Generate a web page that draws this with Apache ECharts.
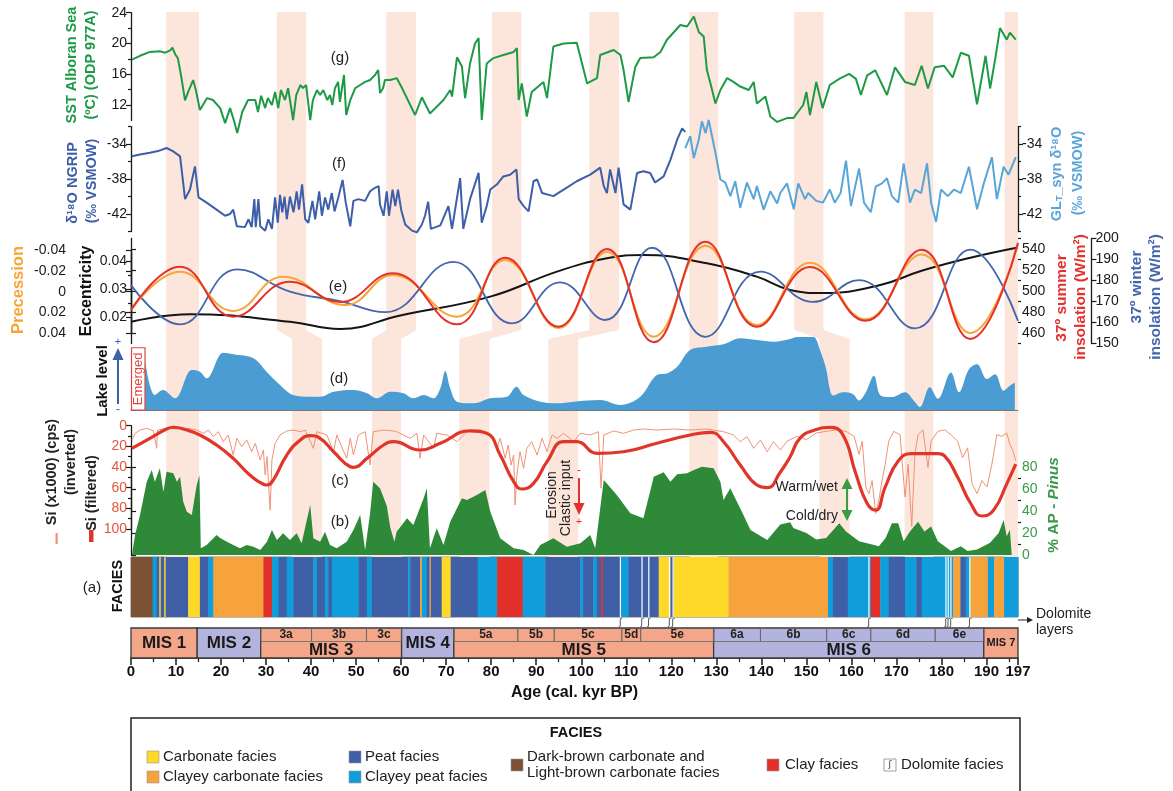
<!DOCTYPE html>
<html><head><meta charset="utf-8">
<script src="https://cdn.jsdelivr.net/npm/echarts@6/dist/echarts.min.js"></script>
<style>html,body{margin:0;padding:0;background:#fff}#c{width:1173px;height:791px}</style>
</head><body><div id="c"></div>
<script>
// ---------------- DATA ----------------
const sstData = [[0.2,17.9],[2.0,18.4],[4.2,18.9],[6.4,19.0],[7.6,18.8],[8.7,19.1],[9.2,19.45],[9.8,18.6],[10.4,18.1],[11.1,15.9],[12.0,12.6],[12.7,13.7],[13.8,15.25],[14.4,13.95],[15.3,11.35],[16.9,12.9],[18.2,12.65],[19.8,11.6],[20.9,9.65],[22.0,11.6],[22.7,10.3],[23.6,8.35],[24.7,11.1],[26.0,12.65],[27.6,12.65],[28.2,11.1],[28.9,13.2],[29.8,11.6],[30.4,12.9],[31.3,12.0],[32.0,13.7],[32.7,11.6],[33.3,13.95],[34.2,12.65],[34.9,14.2],[36.0,10.05],[36.7,13.3],[37.6,14.6],[38.2,14.2],[38.9,14.6],[39.8,10.05],[40.4,12.65],[41.3,13.95],[42.0,13.3],[42.7,13.95],[43.6,12.65],[44.2,13.3],[44.7,12.0],[45.3,14.2],[46.0,15.0],[46.4,12.4],[47.3,15.9],[47.8,10.7],[48.7,12.65],[49.8,14.2],[50.9,14.6],[52.0,15.0],[53.1,15.25],[54.2,15.9],[54.9,16.55],[55.3,13.55],[56.0,14.2],[56.4,15.25],[57.6,15.25],[59.0,15.5],[60.2,14.2],[63.1,10.7],[64.6,13.0],[66.4,10.9],[69.4,12.65],[70.9,13.95],[71.3,13.1],[72.4,18.2],[73.5,17.0],[74.2,12.9],[75.3,17.4],[76.4,20.0],[77.2,20.7],[77.9,10.05],[79.0,17.4],[80.5,18.1],[82.7,18.5],[85.0,18.9],[85.7,19.4],[86.1,12.65],[86.8,14.8],[87.9,10.5],[89.0,13.7],[91.6,15.0],[92.4,12.9],[93.8,19.6],[96.1,20.0],[99.0,20.1],[101.3,14.8],[103.5,15.5],[104.2,18.5],[107.2,19.15],[108.7,18.5],[109.4,16.55],[110.5,12.4],[112.0,16.95],[113.1,18.1],[116.1,18.2],[117.6,18.9],[119.0,20.45],[122.0,22.4],[123.5,22.2],[125.0,23.5],[126.1,21.5],[127.2,20.9],[127.9,16.55],[128.7,14.8],[129.8,12.2],[130.9,13.95],[132.4,15.5],[133.8,15.0],[135.3,14.4],[137.2,13.95],[138.3,15.0],[139.0,12.2],[140.9,13.1],[142.0,10.5],[143.5,9.8],[145.7,10.3],[147.1,10.3],[149.3,12.0],[150.0,13.7],[150.8,10.7],[152.2,15.0],[153.6,11.6],[155.2,14.6],[157.3,15.4],[159.5,16.05],[161.0,15.4],[162.1,13.3],[163.5,15.85],[165.3,16.5],[167.9,13.3],[169.7,16.9],[171.9,15.0],[174.1,14.6],[175.6,17.1],[177.0,14.15],[178.5,16.9],[180.6,17.1],[182.5,15.6],[184.3,18.8],[186.1,18.4],[187.9,12.1],[189.8,18.4],[190.8,14.15],[192.0,18.2],[193.0,22.0],[194.5,20.5],[195.2,21.4],[196.5,20.5]];

const ngripData = [[0.2,-35.4],[2,-35.2],[4.2,-35.0],[6,-34.8],[7.9,-34.45],[9.3,-34.8],[10.9,-35.4],[11.5,-38.05],[12.0,-40.3],[13.1,-39.2],[14.2,-36.55],[15.0,-40.1],[16.8,-40.7],[19.0,-41.5],[20.9,-42.2],[22.0,-42.0],[22.7,-41.5],[23.5,-43.4],[25.3,-43.5],[26.1,-42.6],[26.8,-43.5],[27.4,-40.3],[27.7,-43.5],[28.3,-40.3],[28.7,-43.4],[29.8,-43.9],[30.5,-42.6],[31.3,-43.7],[32.0,-40.1],[32.6,-43.0],[33.1,-39.8],[33.6,-41.8],[34.1,-40.0],[34.6,-42.6],[35.3,-40.0],[36.1,-41.8],[36.8,-39.4],[37.3,-41.5],[38.0,-38.6],[38.7,-42.6],[39.4,-43.0],[40.3,-40.5],[40.9,-42.6],[41.8,-39.4],[42.4,-42.2],[43.1,-40.1],[43.8,-41.5],[44.6,-39.6],[45.2,-41.7],[46.1,-40.0],[47.0,-38.1],[47.7,-40.7],[48.7,-43.4],[49.4,-40.5],[50.5,-40.3],[52.0,-40.5],[53.1,-39.4],[54.2,-39.0],[55.0,-38.8],[55.3,-40.9],[56.1,-42.2],[56.8,-39.4],[57.3,-42.2],[58.1,-39.2],[58.7,-41.1],[59.3,-39.2],[60.0,-41.5],[60.9,-43.2],[62.4,-43.9],[63.5,-44.1],[64.6,-43.2],[65.3,-42.2],[66.0,-40.6],[66.6,-43.7],[68.7,-43.3],[70.5,-41.1],[71.3,-43.7],[73.1,-37.9],[73.8,-43.7],[75.3,-40.3],[77.2,-37.3],[77.9,-43.0],[79.0,-41.1],[79.8,-39.2],[81.3,-38.6],[82.7,-37.7],[84.2,-37.5],[85.6,-36.9],[86.1,-40.3],[87.2,-41.1],[88.3,-41.7],[89.4,-38.25],[90.2,-38.05],[91.3,-39.6],[93.8,-39.95],[96.1,-39.2],[99.0,-38.25],[102.0,-37.5],[104.2,-36.7],[105.0,-38.8],[105.7,-39.6],[106.4,-36.9],[107.6,-39.6],[108.3,-36.7],[109.4,-40.9],[110.9,-41.5],[112.4,-37.3],[113.8,-37.1],[115.3,-37.3],[116.4,-38.4],[118.3,-37.7],[119.8,-35.8],[121.3,-33.5],[122.4,-32.2],[123.1,-32.6]];

const glSynData = [[123.1,-34.45],[124.2,-33.1],[125.0,-35.6],[126.1,-33.5],[126.8,-31.4],[127.6,-32.75],[128.3,-31.25],[129.8,-35.0],[130.9,-38.05],[132.0,-38.4],[133.1,-39.95],[134.2,-38.25],[135.3,-41.3],[136.8,-38.4],[138.3,-40.3],[139.0,-38.8],[140.5,-41.5],[142.0,-39.4],[143.5,-40.8],[144.2,-39.6],[145.7,-38.5],[147.2,-41.45],[148.2,-38.5],[149.7,-40.3],[150.4,-39.6],[152.2,-40.5],[153.7,-40.7],[155.2,-39.2],[156.3,-40.7],[157.6,-39.6],[158.8,-35.9],[159.9,-41.1],[161.7,-36.8],[162.8,-40.7],[164.3,-41.8],[165.4,-38.85],[166.8,-38.5],[167.9,-37.9],[169.0,-39.95],[170.4,-40.7],[171.6,-36.2],[173.0,-40.7],[174.1,-39.2],[175.5,-39.6],[176.8,-36.2],[177.7,-40.7],[178.8,-42.9],[179.9,-39.2],[181.4,-39.95],[182.8,-39.2],[184.3,-39.6],[186.1,-36.6],[187.9,-41.45],[189.4,-38.5],[191.2,-35.5],[192.3,-40.3],[193.8,-36.6],[194.9,-37.5],[196.5,-35.5]];

const summerInsol = [[0,482],[10.9,523.1],[22.7,475.5],[35.3,508.8],[46.4,489.5],[58.2,517],[72.4,468.3],[83.1,531.7],[94.9,466],[105.7,540],[116.1,451.1],[127.6,546.9],[139,466],[150.8,522.8],[163.1,471.7],[175.6,539.4],[186.4,454.3],[197,546]];
const precession = [[0,0.0176],[10.9,-0.0192],[22.7,0.0186],[33.8,-0.0144],[47.6,0.0128],[58.2,-0.016],[72.4,0.024],[83.1,-0.0304],[94.9,0.0349],[105.7,-0.0384],[116.1,0.0432],[127.6,-0.0441],[139,0.032],[150.8,-0.0278],[163.1,0.0266],[175.6,-0.0357],[186.4,0.0399],[197,-0.0455]];
const winterInsol = [[0,177.8],[10.9,159.1],[23.6,185.3],[35.3,174.7],[46.4,170.2],[56.4,164.9],[71.6,188.9],[84.6,159.6],[95.3,179.1],[105.3,161.2],[115.7,195.6],[127.6,153.2],[139.8,184.2],[151.5,169.8],[161.7,180.2],[174.1,157.2],[186.4,194.7],[197,160.8]];
const eccentricity = [[0,0.0184],[13.1,0.0211],[35.3,0.0184],[46.4,0.0158],[59.8,0.0206],[79.8,0.0274],[94.6,0.0364],[105.7,0.0412],[113.8,0.0424],[127.9,0.0394],[139,0.0346],[146.4,0.0298],[153.7,0.0287],[166,0.0314],[175.6,0.0367],[186.4,0.0414],[197,0.0451]];

const lakeLevel = [[3.0,71.1],[5.3,20],[7.1,26.7],[9.8,15.6],[13.5,53.3],[15.3,51.1],[16.8,42.3],[20.5,76.4],[22.7,74.3],[27.2,68.9],[30.1,51.1],[33.1,33.3],[36.0,20],[39.8,17.7],[42.0,17.7],[45.0,24.4],[49.4,26.7],[52.4,22.3],[54.6,15.6],[57.6,24.4],[60.5,22.3],[62.7,15.6],[65.0,20],[67.2,15.6],[68.7,28.9],[69.8,52],[70.9,28.9],[72.4,11.1],[76.1,8.9],[79.8,15.6],[83.5,17.7],[85.6,31.1],[87.2,20],[90.9,11.1],[94.6,8.9],[98.3,11.1],[104.2,13.3],[108.7,6.7],[113.1,17.7],[116.8,46.7],[119.1,48.9],[121.3,57.7],[124.2,80],[127.9,84.4],[131.6,87.6],[135.3,95.6],[139.0,93.3],[142.7,91.1],[146.4,94.7],[147.9,97.2],[151.5,97.2],[153.0,80.5],[154.4,54.3],[155.2,28],[155.9,19.3],[158.1,23.7],[160.3,21.5],[161.7,12.8],[163.2,23.7],[165.0,45.6],[166.5,19.3],[169.0,17.2],[171.9,23.7],[174.1,10.7],[175.2,4],[177.4,30.3],[179.2,14.9],[182.1,50],[183.9,23.7],[186.1,54.3],[187.9,60.9],[190.1,41.2],[191.9,47.7],[193.8,25.9],[195.2,32.4],[196.3,36.8]];
const emergedBox = [[0, 3, 83]];

const siRaw = [[0.2,13.8],[0.9,7.4],[2.0,4.2],[3.5,2.5],[5.0,5.1],[5.7,21.9],[5.9,4.2],[7.9,2.5],[10.2,3.2],[12.4,2.5],[14.6,4.2],[16.1,7.4],[17.2,4.2],[18.3,10.6],[19.4,5.8],[20.5,15.5],[21.6,9.0],[22.7,28.4],[23.5,12.2],[24.6,20.3],[25.7,13.8],[26.8,25.2],[27.6,17.1],[28.7,33.2],[29.4,23.5],[29.8,47.7],[30.2,30],[30.5,52.6],[30.9,81.7],[31.3,33.2],[32.0,17.1],[33.1,9.0],[34.6,5.1],[36.1,4.2],[37.6,5.8],[38.7,4.2],[40.5,21.9],[41.3,5.8],[43.5,9.0],[45.0,25.2],[45.7,9.0],[47.9,31.6],[48.7,12.2],[49.4,28.4],[50.5,9.0],[52.0,5.8],[53.1,38.1],[53.8,5.8],[56.1,4.2],[58.3,5.1],[59.0,5.8],[62.0,12.2],[63.5,7.4],[64.2,31.6],[65.0,9.0],[67.2,21.9],[67.9,7.4],[70.2,9.0],[72.4,15.5],[74.6,5.8],[77.6,4.2],[79.8,9.0],[81.3,21.9],[82.0,12.2],[83.1,31.6],[83.8,18.7],[84.4,38.1],[85.0,28.4],[85.3,76.8],[85.7,47.7],[86.4,25.2],[87.2,41.3],[87.9,21.9],[89.0,15.5],[90.2,28.4],[91.3,12.2],[92.4,25.2],[93.5,9.0],[94.6,12.2],[96.1,7.4],[98.3,15.5],[99.8,7.4],[102.0,9.0],[103.8,5.8],[104.4,60.6],[105.0,9.0],[107.2,5.1],[109.4,7.4],[111.6,4.2],[113.8,3.2],[116.8,4.2],[120.5,3.2],[124.2,4.2],[127.9,3.2],[131.6,5.8],[133.8,9.0],[135.3,15.5],[136.8,10.6],[138.3,21.9],[139.8,13.8],[141.3,25.2],[142.7,15.5],[144.2,23.5],[145.7,15],[147.9,10.3],[150.0,13.5],[152.2,7.1],[154.4,5.5],[156.6,4.0],[158.8,5.5],[160.6,10.3],[161.7,27.7],[162.4,15.0],[163.2,59.4],[163.9,65.8],[164.6,53.1],[165.4,84.9],[166.1,72.1],[166.8,53.1],[167.5,37.3],[168.3,15.0],[169.4,5.5],[170.8,8.7],[171.9,69.0],[172.6,37.3],[173.4,97.6],[174.1,27.7],[174.8,8.7],[175.9,4.0],[177.0,40.5],[177.7,15.0],[179.2,5.5],[180.7,4.0],[182.1,8.7],[183.6,15.0],[184.7,30.9],[185.8,21.4],[186.8,56.3],[187.9,65.8],[189.0,53.1],[190.1,59.4],[191.2,37.3],[192.3,8.7],[193.4,10.3],[194.5,7.1],[195.2,18.2],[195.9,24.5],[196.5,34.1]];
const siFiltered = [[0.2,21.9],[4.2,12.2],[7.9,3.2],[9.4,1.5],[12.4,4.2],[15.3,9],[19.0,18.7],[22.7,31.6],[26.4,47.7],[29.4,56.7],[30.2,57.4],[31.6,52.6],[34.6,28.4],[37.6,13.8],[39.8,9.7],[42.0,12.2],[45.0,25.2],[48.7,39.7],[49.4,40.3],[52.4,31.6],[56.1,18.7],[58.3,15.5],[64.2,23.5],[68.7,17],[75.3,5.1],[79.0,7.4],[82.0,28.4],[85.0,54.2],[86.8,61.3],[89.4,55.8],[92.4,34.8],[96.1,15.5],[99.0,15.5],[103.5,26.7],[109.4,25.2],[116.8,17],[124.2,9],[128.7,6.4],[131.6,15.5],[135.3,38],[139.0,57.4],[141.3,60],[144.2,45],[146.4,30],[148.6,12],[152.0,4],[155.2,1.7],[158.1,8.7],[161.0,46.8],[163.5,75.3],[165.4,81.7],[167.5,59.4],[170.4,34.1],[173.4,27.1],[179.2,27.1],[180.7,29.3],[183.6,50],[186.5,75.3],[189.0,87.4],[191.6,81.7],[194.5,56.3],[196.5,37.3]];

const apPinus = [[0.2,0],[0.9,18.3],[2.0,36.6],[3.5,67],[4.6,77.7],[5.3,67],[6.4,79.3],[7.2,57.9],[7.9,76.1],[9.4,74.7],[10.2,67],[10.9,71.6],[11.6,48.7],[12.4,39.6],[13.5,36.6],[14.6,64],[15.2,73.1],[15.5,6.1],[16.8,9.1],[19.0,18.3],[19.8,15.5],[21.3,12.2],[22.7,9.1],[24.2,6.1],[25.7,9.1],[27.2,7.6],[28.7,4.6],[30.2,12.2],[31.3,22.9],[32.4,13.7],[33.8,19.8],[35.3,13.7],[36.8,19.8],[37.9,10.7],[39.8,45.7],[40.5,15.3],[42.0,12.2],[43.1,21.3],[44.2,9.1],[45.7,6.1],[47.9,12.2],[49.4,22.9],[50.9,36.6],[52.0,4.6],[53.1,38.1],[53.8,67],[55.3,61],[56.8,45],[57.6,25],[58.5,12.2],[59.0,21.3],[61.3,33.5],[62.7,27.4],[65.0,51.8],[65.7,61],[66.4,6.1],[67.9,24.4],[69.4,9.1],[70.9,30.4],[73.5,51.8],[74.6,50.3],[76.8,54.8],[78.7,59.4],[79.8,39.6],[82.0,15.3],[85.0,6.1],[87.2,4.6],[89.4,0],[90.9,9.1],[93.8,15.3],[96.8,7.6],[99.8,10.7],[102.0,18.3],[103.1,6.1],[105.0,68.6],[107.9,54.8],[110.9,38.1],[113.8,33.5],[115.0,53.3],[116.1,71.6],[118.3,75.6],[119.8,67],[121.3,73.8],[123.5,74.7],[125.0,77.7],[126.8,80.7],[129.4,79.3],[130.9,67],[131.6,50.3],[133.1,61],[135.3,42.7],[137.6,22.9],[141.3,13.7],[144.2,28],[146.4,30],[147.1,24.6],[150.0,20.1],[152.2,14.1],[154.4,15.5],[157.3,29.1],[158.8,21.6],[161.7,12.6],[164.6,9.6],[166.1,8.1],[167.6,15.5],[169.0,29.1],[170.4,29.1],[171.6,12.6],[173.0,21.6],[174.8,30.5],[176.2,21.6],[177.7,26.1],[179.2,12.6],[180.7,8.1],[182.1,3.6],[184.3,8.1],[185.8,3.6],[187.9,5],[190.8,11.1],[192.7,20.1],[193.8,32],[194.5,17.1],[195.2,23],[195.6,0]];

// facies types: 0 carbonate, 1 clayey carbonate, 2 peat, 3 clayey peat, 4 dark/light-brown carbonate, 5 clay
const faciesStart = [0,4.8,5.7,6.3,6.6,7.4,7.7,12.7,15.3,17.2,18.3,29.4,31.3,32.8,34.6,36.1,40.5,41.3,43.1,43.8,44.6,50.5,52.4,53.5,61.6,62.0,64.2,64.6,65.7,66.3,66.6,69.0,71.0,77.0,81.3,87.0,92.0,99.8,100.4,102.7,103.4,104.4,104.8,108.7,110.5,117.2,119.8,120.5,132.7,154.8,155.9,159.2,164.3,166.4,168.3,171.9,174.4,175.6,182.6,184.2,185.4,186.4,190.3,191.7,193.9];
const faciesEnd   = [4.8,5.7,6.3,6.6,7.4,7.7,12.7,15.3,17.2,18.3,29.4,31.3,32.8,34.6,36.1,40.5,41.3,43.1,43.8,44.6,50.5,52.4,53.5,61.6,62.0,64.2,64.6,65.7,66.3,66.6,69.0,71.0,77.0,81.3,87.0,92.0,99.8,100.4,102.7,103.4,104.4,104.8,108.7,110.5,117.2,119.8,120.5,132.7,154.8,155.9,159.2,164.3,166.4,168.3,171.9,174.4,175.6,182.6,184.2,185.4,186.4,190.3,191.7,193.9,197];
const faciesType  = [4,3,2,0,2,0,2,0,2,3,1,5,3,2,3,2,3,2,3,2,3,2,3,2,3,2,1,3,2,1,2,0,2,3,5,3,2,3,2,3,2,5,2,3,2,0,2,0,1,3,2,3,5,3,2,3,2,3,1,2,3,1,3,1,3];
const dolomiteAges = [108.7,113.5,115.0,119.6,120.4,163.9,181.0,181.5,182.1,186.3];

const misStart = [0,14.7,28.8,60.1,71.7,129.4,189.4];
const misEnd   = [14.7,28.8,60.1,71.7,129.4,189.4,197];
const misName  = ['MIS 1','MIS 2','MIS 3','MIS 4','MIS 5','MIS 6','MIS 7'];
const misWarm  = [1,0,1,0,1,0,1];
const misHasSub = [0,0,1,0,1,1,0];
const subStart = [28.8,40.1,52.3,71.7,85.9,94.0,109.0,113.2,129.4,139.8,154.5,164.3,178.6];
const subEnd   = [40.1,52.3,60.1,85.9,94.0,109.0,113.2,129.4,139.8,154.5,164.3,178.6,189.4];
const subName  = ['3a','3b','3c','5a','5b','5c','5d','5e','6a','6b','6c','6d','6e'];

const bandUpStart = [7.8,32.4,56.7,80.2,101.8,124.0,147.3,171.8,194.0];
const bandUpEnd   = [15.1,38.9,63.3,86.7,108.4,130.4,153.8,178.2,197];
const bandLoStart = [7.8,35.8,53.5,72.9,92.7,124.0,152.9,171.8,194.0];
const bandLoEnd   = [15.1,42.4,60.0,79.6,99.3,130.4,159.6,178.2,197];

const ageLabels = [0,10,20,30,40,50,60,70,80,90,100,110,120,130,140,150,160,170,180,190,197];
const ageMinorTicks = [5,15,25,35,45,55,65,75,85,95,105,115,125,135,145,155,165,175,185,195];
const sstTicks = [12,16,20,24], sstMinor = [14,18,22];
const ngripTicks = [-42,-38,-34], ngripMinor = [-44,-40,-36,-32];
const precTicks = [-0.04,-0.02,0,0.02,0.04];
const eccTicks = [0.02,0.03,0.04], eccMinor = [0.025,0.035];
const sumTicks = [460,480,500,520,540], sumMinor = [450,470,490,510,530,550];
const winTicks = [150,160,170,180,190,200];
const siTicks = [0,20,40,60,80,100], siMinor = [10,30,50,70,90];
const apTicks = [0,20,40,60,80], apMinor = [10,30,50,70];

// ---------------- STYLE ----------------
const FONT = '"Liberation Sans", Arial, Helvetica, sans-serif';
const C = {band:'#FCE5DA', sst:'#1E9A47', ngrip:'#3D5EA8', gl:'#5AA5D8', prec:'#F7A535', sum:'#E4312B', win:'#4466AE', ecc:'#151515',
  lake:'#4B9CD2', siThin:'#F29176', siFilt:'#E2352A', ap:'#2E8A38', warm:'#F4A68A', cold:'#B3B4DD'};
const FACIES_COLORS = ['#FFD928','#F6A33C','#3F60A6','#0F9DDB','#7B5233','#E3302B'];

const L = 131, R = 1173 - 1018;
const gridDefs = [
  [12, 545],      // 0 bands
  [12.7, 107.7],  // 1 SST
  [126.6, 104.9], // 2 NGRIP / GL
  [250, 83.3],    // 3 precession
  [253, 78.7],    // 4 eccentricity
  [238.5, 105],   // 5 insolation
  [335, 75],      // 6 lake
  [425.7, 103.3], // 7 Si
  [467.5, 87.5],  // 8 AP
  [557, 60],      // 9 facies
  [628, 30]       // 10 MIS
];
const grid = gridDefs.map(g => ({left:L, right:R, top:g[0], height:g[1]}));
grid[9].show = true; grid[9].borderColor = '#555'; grid[9].borderWidth = 0.8; grid[9].backgroundColor = 'transparent';

const xAxis = gridDefs.map((g,i) => ({gridIndex:i, type:'value', min:0, max:197, show:false, splitLine:{show:false}}));
xAxis[6] = {gridIndex:6, type:'value', min:0, max:197, show:true, axisLine:{show:true, lineStyle:{color:'#777', width:1}}, axisTick:{show:false}, axisLabel:{show:false}, splitLine:{show:false}};
xAxis[10] = {gridIndex:10, type:'value', min:0, max:197, position:'bottom',
  axisLine:{show:true, lineStyle:{color:'#1a1a1a', width:1.5}},
  axisTick:{show:true, length:7, customValues:ageLabels, lineStyle:{color:'#1a1a1a', width:1.5}},
  axisLabel:{show:true, customValues:ageLabels, fontSize:15, fontWeight:'bold', color:'#111', fontFamily:FONT, margin:6},
  splitLine:{show:false},
  name:'Age (cal. kyr BP)', nameLocation:'middle', nameGap:27,
  nameTextStyle:{fontSize:16, fontWeight:'bold', color:'#111', fontFamily:FONT}};
xAxis.push({gridIndex:10, type:'value', min:0, max:197, position:'bottom', axisLine:{show:false},
  axisTick:{show:true, length:4, customValues:ageMinorTicks, lineStyle:{color:'#1a1a1a', width:1.2}}, axisLabel:{show:false}, splitLine:{show:false}});

const yAxis = [];
function Y(o){ yAxis.push(Object.assign({type:'value', splitLine:{show:false}}, o)); return yAxis.length - 1; }
const AXL = {show:true, lineStyle:{color:'#1a1a1a', width:1.3}};
function tk(vals, len){ return {show:true, length:len, customValues:vals, lineStyle:{color:'#1a1a1a', width:1.2}}; }
function scaleAxis(g, min, max, pos, offset, inverse, majors, minors, labColor, fmt){
  const lab = {show:true, customValues:majors, color:labColor||'#1a1a1a', fontSize:14, fontFamily:FONT, margin:4};
  if (fmt) lab.formatter = fmt;
  const i = Y({gridIndex:g, min, max, position:pos, offset, inverse, axisLine:AXL, axisTick:tk(majors,5), axisLabel:lab});
  if (minors) Y({gridIndex:g, min, max, position:pos, offset, inverse, axisLine:{show:false}, axisTick:tk(minors,3), axisLabel:{show:false}});
  return i;
}
const fmt2 = v => v === 0 ? '0' : v.toFixed(2);
const yBand = Y({gridIndex:0, min:0, max:545, inverse:true, show:false});
const ySST = scaleAxis(1, 10, 24, 'left', 0, false, sstTicks, sstMinor);
const yNG = scaleAxis(2, -44, -32, 'left', 0, false, ngripTicks, ngripMinor);
const yGL = scaleAxis(2, -44, -32, 'right', 0, false, ngripTicks, ngripMinor);
const yPrec = scaleAxis(3, -0.04, 0.04, 'left', 61, true, precTicks, null, null, fmt2);
const yEcc = scaleAxis(4, 0.0148, 0.0431, 'left', 0, false, eccTicks, eccMinor, null, fmt2);
const ySum = scaleAxis(5, 450, 550, 'right', 0, false, sumTicks, sumMinor);
const yWin = scaleAxis(5, 150, 200, 'right', 73.5, false, winTicks, null);
const yLake = Y({gridIndex:6, min:0, max:100, show:false});
const ySi = scaleAxis(7, 0, 100, 'left', 0, true, siTicks, siMinor, '#E0583E');
const yAP = scaleAxis(8, 0, 80, 'right', 0, false, apTicks, apMinor, '#3A9A48');
const yFac = Y({gridIndex:9, min:0, max:1, show:false});
const yMIS = Y({gridIndex:10, min:0, max:1, show:false});

const KINK1 = 318, KINK2 = 327;
function line(x, y, data, color, width, extra){
  return Object.assign({type:'line', xAxisIndex:x, yAxisIndex:y, data, showSymbol:false, symbol:'none', clip:false,
    lineStyle:{color, width}, z:3, animation:false}, extra||{});
}

const series = [
  {type:'custom', xAxisIndex:0, yAxisIndex:yBand, z:0, silent:true,
    data: bandUpStart.map((v,i)=>[v,0]),
    renderItem:function(params, api){
      const i = params.dataIndex, P = (a,v)=>api.coord([a,v]);
      return {type:'polygon', shape:{points:[P(bandUpStart[i],0),P(bandUpEnd[i],0),P(bandUpEnd[i],KINK1),P(bandLoEnd[i],KINK2),
        P(bandLoEnd[i],545),P(bandLoStart[i],545),P(bandLoStart[i],KINK2),P(bandUpStart[i],KINK1)]}, style:{fill:C.band}};
    }},
  line(1, ySST, sstData, C.sst, 2),
  line(2, yNG, ngripData, C.ngrip, 2),
  line(2, yGL, glSynData, C.gl, 2),
  line(4, yEcc, eccentricity, C.ecc, 2, {smooth:0.45}),
  line(5, yWin, winterInsol, C.win, 1.8, {smooth:0.45}),
  line(3, yPrec, precession, C.prec, 2, {smooth:0.45}),
  line(5, ySum, summerInsol, C.sum, 2, {smooth:0.45}),
  line(6, yLake, lakeLevel, C.lake, 0, {smooth:0.35, areaStyle:{color:C.lake, opacity:1}}),
  {type:'custom', xAxisIndex:6, yAxisIndex:yLake, z:4, data: emergedBox,
    renderItem:function(params, api){
      const p0 = api.coord([api.value(0), api.value(2)]), p1 = api.coord([api.value(1), 0]);
      return {type:'group', children:[
        {type:'rect', shape:{x:p0[0]+0.5, y:p0[1], width:p1[0]-p0[0], height:p1[1]-p0[1]}, style:{fill:'#fff', stroke:'#E0473A', lineWidth:1.2}},
        {type:'text', x:(p0[0]+p1[0])/2+1, y:(p0[1]+p1[1])/2, rotation:Math.PI/2,
          style:{text:'Emerged', font:'13px '+FONT, fill:'#E0473A', textAlign:'center', textVerticalAlign:'middle'}}
      ]};
    }},
  line(8, yAP, apPinus, C.ap, 0, {areaStyle:{color:C.ap, opacity:1}}),
  line(7, ySi, siRaw, C.siThin, 1),
  line(7, ySi, siFiltered, C.siFilt, 3.2, {smooth:0.5}),
  {type:'custom', xAxisIndex:9, yAxisIndex:yFac, z:3,
    data: faciesStart.map((s,i)=>[s, faciesEnd[i], faciesType[i]]),
    renderItem:function(params, api){
      const p0 = api.coord([api.value(0),1]), p1 = api.coord([api.value(1),0]);
      return {type:'rect', shape:{x:p0[0], y:p0[1], width:p1[0]-p0[0]+0.4, height:p1[1]-p0[1]}, style:{fill:FACIES_COLORS[api.value(2)]}};
    }},
  {type:'custom', xAxisIndex:9, yAxisIndex:yFac, z:4,
    data: dolomiteAges.map(a=>[a]),
    renderItem:function(params, api){
      const p0 = api.coord([api.value(0),1]), p1 = api.coord([api.value(0),0]);
      return {type:'group', children:[
        {type:'line', shape:{x1:p0[0], y1:p0[1], x2:p1[0], y2:p1[1]}, style:{stroke:'#ffffff', lineWidth:1.2}},
        {type:'text', x:p1[0], y:p1[1]+6, style:{text:'ʃ', font:'9px "DejaVu Sans", sans-serif', fill:'#333', textAlign:'center', textVerticalAlign:'middle'}}
      ]};
    }},
  {type:'custom', xAxisIndex:10, yAxisIndex:yMIS, z:3,
    data: misStart.map((s,i)=>[s, misEnd[i], i]),
    renderItem:function(params, api){
      const i = api.value(2), s = api.value(0), e = api.value(1);
      const p0 = api.coord([s,1]), p1 = api.coord([e,0]);
      const sub = misHasSub[i];
      const ch = [{type:'rect', shape:{x:p0[0], y:p0[1], width:p1[0]-p0[0], height:p1[1]-p0[1]},
        style:{fill: misWarm[i] ? C.warm : C.cold, stroke:'#3a3a3a', lineWidth:1.3}}];
      const c = api.coord([(s+e)/2, sub ? 0.27 : 0.5]);
      ch.push({type:'text', x:c[0], y:c[1], style:{text:misName[i], font:(i===6?'bold 11px ':'bold 17px ')+FONT, fill:'#1a1a1a', textAlign:'center', textVerticalAlign:'middle'}});
      return {type:'group', children:ch};
    }},
  {type:'custom', xAxisIndex:10, yAxisIndex:yMIS, z:4,
    data: subStart.map((s,i)=>[s, subEnd[i], i]),
    renderItem:function(params, api){
      const s = api.value(0), e = api.value(1), i = api.value(2);
      const p0 = api.coord([s,1]), p1 = api.coord([e,0.55]);
      const c = api.coord([(s+e)/2, 0.78]);
      return {type:'group', children:[
        {type:'rect', shape:{x:p0[0], y:p0[1], width:p1[0]-p0[0], height:p1[1]-p0[1]}, style:{fill:'none', stroke:'#666', lineWidth:0.8}},
        {type:'text', x:c[0], y:c[1], style:{text:subName[i], font:'bold 12px '+FONT, fill:'#222', textAlign:'center', textVerticalAlign:'middle'}}
      ]};
    }}
];

// ---------------- TEXT / ANNOTATIONS ----------------
const G = [];
function T(x, y, text, font, fill, rot, align, rich){
  const st = {text, font, fill, textAlign:align||'center', textVerticalAlign:'middle'};
  if (rich) st.rich = rich;
  G.push({type:'text', x, y, rotation: rot ? Math.PI/2 : 0, style:st, z:50});
}
function Ln(x1,y1,x2,y2,stroke,w){ G.push({type:'line', shape:{x1,y1,x2,y2}, style:{stroke, lineWidth:w}, z:50}); }
function Tri(pts, fill){ G.push({type:'polygon', shape:{points:pts}, style:{fill}, z:50}); }
function Rect(x,y,w,h,fill,stroke,lw){ G.push({type:'rect', shape:{x,y,width:w,height:h}, style:{fill, stroke:stroke||null, lineWidth:lw||0}, z:50}); }
const B = s => 'bold ' + s + 'px ' + FONT;
const N = s => s + 'px ' + FONT;

// left labels
T(72, 65, 'SST Alboran Sea', B(14.5), C.sst, true);
T(91, 65, '(ºC) (ODP 977A)', B(14.5), C.sst, true);
T(73, 183, 'δ¹⁸O NGRIP', B(14.5), C.ngrip, true);
T(92, 181, '(‰ VSMOW)', B(14.5), C.ngrip, true);
T(18, 290, 'Precession', B(16.5), C.prec, true);
T(87, 291, 'Eccentricity', B(16), '#111', true);
T(103, 381, 'Lake level', B(15), '#111', true);
T(52, 472, 'Si (x1000) (cps)', B(14.5), '#222', true);
T(71, 462, '(inverted)', B(14.5), '#222', true);
T(92, 493, 'Si (filtered)', B(14.5), '#222', true);
Rect(55.5, 533, 2.2, 11, C.siThin);
Rect(89, 530, 4.5, 12, C.siFilt);
T(118, 586, 'FACIES', B(14.5), '#111', true);
T(92, 588, '(a)', N(15), '#222');

// lake arrow
Ln(118, 404, 118, 358, '#3F60A6', 2);
Tri([[118,348],[112.5,360],[123.5,360]], '#3F60A6');
T(118, 342, '+', N(11), '#3F60A6');
T(118, 410, '-', N(12), '#3F60A6');

// right labels
T(1057, 174, '{a|GL}{s|T}{a|_syn δ¹⁸O}', B(14.5), C.gl, true, 'center',
  {a:{font:B(14.5), fill:C.gl}, s:{font:B(9), fill:C.gl, verticalAlign:'bottom', padding:[6,0,0,0]}});
T(1078, 173, '(‰ VSMOW)', B(14.5), C.gl, true);
T(1062, 298, '37º summer', B(15.5), C.sum, true);
T(1081, 297, 'insolation (W/m²)', B(15.5), C.sum, true);
T(1137, 287, '37º winter', B(15.5), C.win, true);
T(1156, 297, 'insolation (W/m²)', B(15.5), C.win, true);
T(1054, 505, '{a|% AP - }{b|Pinus}', B(15.5), C.ap, true, 'center',
  {a:{font:B(15.5), fill:'#3A9A48'}, b:{font:'italic bold 15.5px '+FONT, fill:'#3A9A48'}});

// panel letters
T(340, 58, '(g)', N(15), '#222');
T(339, 164, '(f)', N(15), '#222');
T(338, 287, '(e)', N(15), '#222');
T(339, 379, '(d)', N(15), '#222');
T(340, 481, '(c)', N(15), '#222');
T(340, 522, '(b)', N(15), '#222');

// erosion annotation
T(552, 495, 'Erosion', N(14), '#222', true);
T(566, 498, 'Clastic input', N(14), '#222', true);
T(579, 471, '-', N(12), C.sum);
Ln(579, 478, 579, 505, C.sum, 2);
Tri([[579,515],[573.5,503],[584.5,503]], C.sum);
T(579, 522, '+', N(11), C.sum);

// warm / cold
T(838, 487, 'Warm/wet', N(14), '#222', false, 'right');
T(838, 516, 'Cold/dry', N(14), '#222', false, 'right');
Ln(847, 486, 847, 513, '#3A9A45', 2);
Tri([[847,478],[841.5,489],[852.5,489]], '#3A9A45');
Tri([[847,521],[841.5,510],[852.5,510]], '#3A9A45');

// dolomite layers
Ln(1018, 620, 1028, 620, '#222', 1);
Tri([[1033,620],[1027,617],[1027,623]], '#222');
T(1036, 614, 'Dolomite', N(14), '#222', false, 'left');
T(1036, 630, 'layers', N(14), '#222', false, 'left');

// legend box
G.push({type:'rect', shape:{x:131, y:718, width:889, height:90}, style:{fill:'none', stroke:'#222', lineWidth:1.5}, z:50});
T(576, 733, 'FACIES', B(14.5), '#111');
const LS = 12;
Rect(147, 751, LS, LS, FACIES_COLORS[0], '#999', 0.6); T(163, 757, 'Carbonate facies', N(15), '#222', false, 'left');
Rect(147, 771, LS, LS, FACIES_COLORS[1], '#999', 0.6); T(163, 777, 'Clayey carbonate facies', N(15), '#222', false, 'left');
Rect(349, 751, LS, LS, FACIES_COLORS[2], '#999', 0.6); T(365, 757, 'Peat facies', N(15), '#222', false, 'left');
Rect(349, 771, LS, LS, FACIES_COLORS[3], '#999', 0.6); T(365, 777, 'Clayey peat facies', N(15), '#222', false, 'left');
Rect(511, 759, LS, LS, FACIES_COLORS[4], '#999', 0.6); T(527, 757, 'Dark-brown carbonate and', N(15), '#222', false, 'left');
T(527, 773, 'Light-brown carbonate facies', N(15), '#222', false, 'left');
Rect(767, 759, LS, LS, FACIES_COLORS[5], '#999', 0.6); T(785, 765, 'Clay facies', N(15), '#222', false, 'left');
Rect(884, 759, LS, LS, '#fff', '#888', 0.8); T(890, 765, 'ʃ', '9px "DejaVu Sans", sans-serif', '#333');
T(901, 765, 'Dolomite facies', N(15), '#222', false, 'left');

const chart = echarts.init(document.getElementById('c'), null, {renderer:'canvas'});
chart.setOption({
  animation:false,
  backgroundColor:'#ffffff',
  textStyle:{fontFamily:FONT},
  grid, xAxis, yAxis, series,
  graphic:{elements:G}
});
</script></body></html>
